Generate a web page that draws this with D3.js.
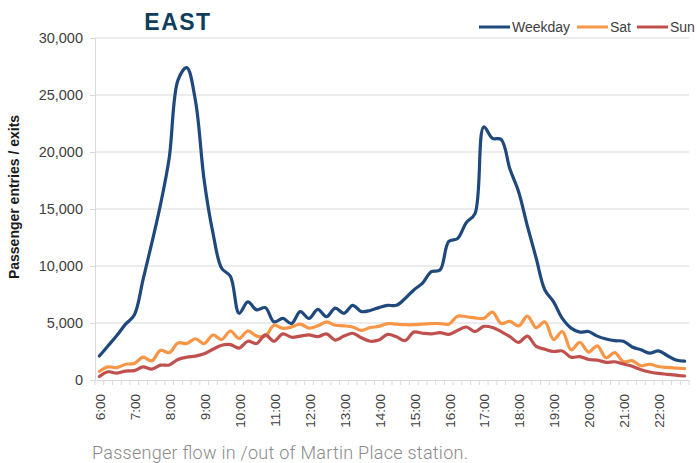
<!DOCTYPE html>
<html>
<head>
<meta charset="utf-8">
<script src="https://cdn.jsdelivr.net/npm/d3@7"></script>
<style>
  html, body { margin: 0; padding: 0; background: #ffffff; }
  svg { display: block; }
</style>
</head>
<body>
<svg id="chart" width="697" height="463"></svg>
<script>
// ---- Data ----
const times = [
  "6:00","6:15","6:30","6:45","7:00","7:15","7:30","7:45",
  "8:00","8:15","8:30","8:45","9:00","9:15","9:30","9:45",
  "10:00","10:15","10:30","10:45","11:00","11:15","11:30","11:45",
  "12:00","12:15","12:30","12:45","13:00","13:15","13:30","13:45",
  "14:00","14:15","14:30","14:45","15:00","15:15","15:30","15:45",
  "16:00","16:15","16:30","16:45","17:00","17:15","17:30","17:45",
  "18:00","18:15","18:30","18:45","19:00","19:15","19:30","19:45",
  "20:00","20:15","20:30","20:45","21:00","21:15","21:30","21:45",
  "22:00","22:15","22:30","22:45"
];
const tickLabels = ["6:00","7:00","8:00","9:00","10:00","11:00","12:00","13:00","14:00",
  "15:00","16:00","17:00","18:00","19:00","20:00","21:00","22:00"];

const weekday = [
  2100, 3000, 3900, 4900, 5700, 8800, 12000, 15400,
  19500, 26300, 27400, 24500, 17500, 12900, 9800, 9100,
  5850, 6850, 6150, 6350, 5100, 5400, 4950, 6000,
  5400, 6200, 5550, 6300, 5850, 6550, 6000, 6100,
  6350, 6550, 6550, 7150, 7900, 8500, 9500, 9650,
  12150, 12400, 13800, 14600, 22200, 21200, 21100, 18500,
  16500, 13500, 10700, 7900, 6850, 5400, 4550, 4200,
  4250, 3850, 3600, 3450, 3400, 2900, 2650, 2350,
  2550, 2150, 1750, 1650
];
const sat = [
  750, 1150, 1080, 1380, 1450, 2000, 1680, 2600,
  2400, 3250, 3200, 3620, 3200, 3950, 3550, 4300,
  3650, 4300, 3850, 3850, 4800, 4530, 4650, 4900,
  4550, 4750, 5100, 4800, 4750, 4650, 4350, 4600,
  4700, 4950, 4900, 4850, 4850, 4900, 4950, 4950,
  4900, 5600, 5550, 5450, 5400, 5950, 4950, 5150,
  4750, 5600, 4600, 5100, 3550, 4250, 2650, 3300,
  2450, 3000, 1950, 2400, 1600, 1700, 1250, 1380,
  1180, 1100, 1050, 1000
];
const sun = [
  300, 720, 600, 780, 820, 1150, 950, 1300,
  1320, 1800, 2000, 2100, 2300, 2700, 3050, 3100,
  2800, 3400, 3200, 3950, 3400, 4050, 3750, 3850,
  3950, 3800, 4050, 3500, 3850, 4100, 3700, 3400,
  3500, 4000, 3800, 3450, 4200, 4100, 4050, 4150,
  4000, 4350, 4650, 4250, 4700, 4600, 4250, 3800,
  3300, 3850, 2950, 2700, 2500, 2550, 2000, 2050,
  1800, 1750, 1550, 1600, 1400, 1200, 900, 700,
  580, 500, 420, 350
];
const seriesNames = ["Weekday", "Sat", "Sun"];
const seriesColors = ["#1f497d", "#f79646", "#c0504d"];
const yTicks = [0, 5000, 10000, 15000, 20000, 25000, 30000];

// ---- Layout ----
const svg = d3.select("#chart");
const mLeft = 95, mRight = 689, mTop = 38, mBottom = 380;

const x = d3.scalePoint().domain(times).range([mLeft, mRight]).padding(0.5);
const step = x.step();
const y = d3.scaleLinear().domain([0, 30000]).range([mBottom, mTop]);

const grid = "#d9d9d9";
const textCol = "#404040";

// gridlines
svg.append("g").selectAll("line").data(yTicks.filter(d => d > 0)).join("line")
  .attr("x1", mLeft).attr("x2", mRight)
  .attr("y1", d => y(d)).attr("y2", d => y(d))
  .attr("stroke", grid).attr("stroke-width", 1);

// y axis
const yAxis = svg.append("g").attr("transform", `translate(${mLeft},0)`)
  .call(d3.axisLeft(y).tickValues(yTicks).tickSize(5).tickPadding(7)
    .tickFormat(d3.format(",")));
yAxis.select(".domain").attr("stroke", grid);
yAxis.selectAll(".tick line").attr("stroke", grid);
yAxis.selectAll(".tick text").attr("fill", textCol)
  .style("font-family", "'Liberation Sans', Arial, sans-serif").style("font-size", "14.5px");

// x axis line + category boundary ticks
const boundaries = d3.range(times.length + 1).map(i => mLeft + i * step);
svg.append("line").attr("x1", mLeft).attr("x2", mRight)
  .attr("y1", mBottom + 0.5).attr("y2", mBottom + 0.5)
  .attr("stroke", grid).attr("stroke-width", 1.2);
svg.append("g").selectAll("line").data(boundaries).join("line")
  .attr("x1", d => d).attr("x2", d => d)
  .attr("y1", mBottom).attr("y2", mBottom + 5)
  .attr("stroke", grid).attr("stroke-width", 1);

// x tick labels (rotated)
svg.append("g").selectAll("text").data(tickLabels).join("text")
  .attr("transform", d => `translate(${x(d) + 1},${mBottom + 14}) rotate(-90)`)
  .attr("text-anchor", "end").attr("dy", "0.35em")
  .attr("fill", textCol)
  .style("font-family", "'Liberation Sans', Arial, sans-serif").style("font-size", "13.5px")
  .text(d => d);

// lines
const allSeries = [weekday, sat, sun];
const line = d3.line()
  .x((d, i) => x(times[i]))
  .y(d => y(d))
  .curve(d3.curveCatmullRom.alpha(0.5));
allSeries.forEach((s, k) => {
  svg.append("path").datum(s)
    .attr("d", line)
    .attr("fill", "none")
    .attr("stroke", seriesColors[k])
    .attr("stroke-width", 3.2)
    .attr("stroke-linejoin", "round")
    .attr("stroke-linecap", "round");
});

// title
svg.append("text").attr("x", 178).attr("y", 30)
  .attr("text-anchor", "middle")
  .attr("fill", "#0f3d5c")
  .style("font-family", "'Liberation Sans', Arial, sans-serif")
  .style("font-weight", "bold").style("font-size", "23px")
  .style("letter-spacing", "1.5px")
  .text("EAST");

// y title
svg.append("text")
  .attr("transform", "translate(19,197) rotate(-90)")
  .attr("text-anchor", "middle")
  .attr("fill", "#1a1a1a")
  .style("font-family", "'Liberation Sans', Arial, sans-serif")
  .style("font-weight", "bold").style("font-size", "14px")
  .text("Passenger entries / exits");

// legend
const legendX = [479, 577, 637];
const legend = svg.append("g");
seriesNames.forEach((name, k) => {
  legend.append("line")
    .attr("x1", legendX[k]).attr("x2", legendX[k] + 31)
    .attr("y1", 27).attr("y2", 27)
    .attr("stroke", seriesColors[k]).attr("stroke-width", 3);
  legend.append("text")
    .attr("x", legendX[k] + 33).attr("y", 32)
    .attr("fill", textCol)
    .style("font-family", "'Liberation Sans', Arial, sans-serif").style("font-size", "14px")
    .text(name);
});

// caption
svg.append("text").attr("x", 92).attr("y", 459)
  .attr("fill", "#8a8a8a")
  .attr("textLength", 376).attr("lengthAdjust", "spacing")
  .style("font-family", "Roboto, 'Open Sans', sans-serif")
  .style("font-weight", "300").style("font-size", "18px")
  .text("Passenger flow in /out of Martin Place station.");
</script>
</body>
</html>
